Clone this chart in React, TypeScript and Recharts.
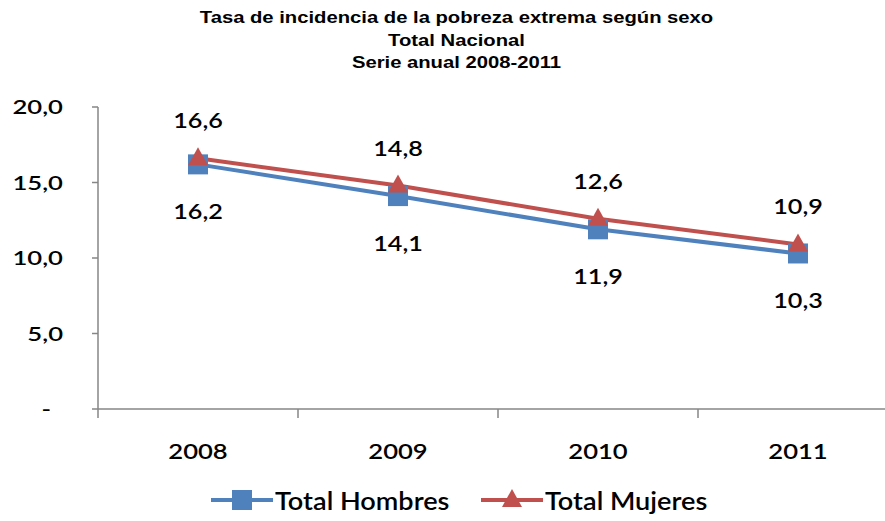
import React from "react";
import { LineChart, Line, XAxis, YAxis, LabelList } from "recharts";

const years = ["2008", "2009", "2010", "2011"];
const hombres = [16.2, 14.1, 11.9, 10.3];
const mujeres = [16.6, 14.8, 12.6, 10.9];
const yTicks = [0, 5, 10, 15, 20];
const titleLines = [
  "Tasa de incidencia de la pobreza extrema según sexo",
  "Total Nacional",
  "Serie anual 2008-2011",
];

const BLUE = "#4F81BD";
const RED = "#C0504D";
const AXIS = "#868686";
const FONT = "Lato, 'Open Sans', sans-serif";

const data = years.map((year, i) => ({ year, hombres: hombres[i], mujeres: mujeres[i] }));

const fmt = (v: number) => v.toFixed(1).replace(".", ",");

const CHART_W = 905;
const MARGIN = { top: 107, right: 7, left: 0, bottom: 82 };
const Y_W = 98;
const band = (CHART_W - MARGIN.left - MARGIN.right - Y_W) / years.length;

// the reference text is stretched sideways, so scale it a bit
function SText({ x, y, size, sx, anchor = "middle", weight = "normal", children }: any) {
  return (
    <text
      transform={`translate(${x} ${y}) scale(${sx} 1)`}
      textAnchor={anchor}
      fontSize={size}
      fontFamily={FONT}
      fontWeight={weight}
      fill="#000"
    >
      {children}
    </text>
  );
}

function SquareDot(props: any) {
  const { cx, cy } = props;
  if (cx == null || cy == null) return null;
  return <rect x={cx - 10} y={cy - 10} width={20} height={20} fill={BLUE} />;
}

function TriangleDot(props: any) {
  const { cx, cy } = props;
  if (cx == null || cy == null) return null;
  return <path d={`M${cx},${cy - 11} L${cx + 10},${cy + 7} L${cx - 10},${cy + 7} Z`} fill={RED} />;
}

function YTick(props: any) {
  const { x, y, payload } = props;
  const v = payload.value as number;
  return (
    <SText x={v === 0 ? x - 12 : x} y={y + 7} size={19} sx={1.35} anchor="end" weight={600}>
      {v === 0 ? "-" : fmt(v)}
    </SText>
  );
}

function XTick(props: any) {
  const { x, y, payload } = props;
  return (
    <g>
      <line x1={x - band / 2} x2={x - band / 2} y1={y - 8} y2={y + 1} stroke={AXIS} strokeWidth={1.5} />
      <SText x={x} y={y + 42} size={21} sx={1.22} weight={600}>
        {payload.value}
      </SText>
    </g>
  );
}

function valueLabel(offset: number) {
  return (props: any) => {
    const { x, y, value } = props;
    return (
      <SText x={x} y={y + offset + 8} size={21} sx={1.2} weight={600}>
        {fmt(value)}
      </SText>
    );
  };
}

function LegendItem({ color, name, square }: { color: string; name: string; square: boolean }) {
  return (
    <div style={{ display: "flex", alignItems: "center", height: 30 }}>
      <svg width={62} height={24}>
        <line x1={0} x2={62} y1={12} y2={12} stroke={color} strokeWidth={4} />
        {square ? (
          <rect x={21} y={2} width={20} height={20} fill={color} />
        ) : (
          <path d="M31,1 L41,19 L21,19 Z" fill={color} />
        )}
      </svg>
      <span
        style={{
          display: "inline-block",
          fontSize: 24,
          fontFamily: FONT,
          fontWeight: 600,
          color: "#000",
          marginLeft: 2,
          transform: "scaleX(1.13)",
          transformOrigin: "left center",
        }}
      >
        {name}
      </span>
    </div>
  );
}

export default function App() {
  return (
    <div
      style={{
        position: "absolute",
        left: 0,
        top: 0,
        width: 885,
        height: 521,
        overflow: "hidden",
        background: "#fff",
      }}
    >
      <div
        style={{
          position: "absolute",
          left: 13.5,
          top: 7,
          width: 885,
          textAlign: "center",
          fontFamily: "'Liberation Sans', Arial, sans-serif",
          fontWeight: "bold",
          fontSize: 17,
          lineHeight: "22.5px",
          color: "#000",
          transform: "scaleX(1.19)",
          transformOrigin: "center 0",
        }}
      >
        {titleLines.map((t) => (
          <div key={t}>{t}</div>
        ))}
      </div>
      <div style={{ position: "absolute", left: 0, top: 0 }}>
        <LineChart width={CHART_W} height={521} data={data} margin={MARGIN}>
          <XAxis
            dataKey="year"
            axisLine={{ stroke: AXIS, strokeWidth: 1.5 }}
            tickLine={false}
            tick={<XTick />}
            height={30}
            interval={0}
            padding={{ left: band / 2, right: band / 2 }}
          />
          <YAxis
            domain={[0, 20]}
            ticks={yTicks}
            width={Y_W}
            axisLine={{ stroke: AXIS, strokeWidth: 1.5 }}
            tickLine={{ stroke: AXIS, strokeWidth: 1.5 }}
            tickSize={6}
            tickMargin={29}
            tick={<YTick />}
            interval={0}
          />
          <Line
            dataKey="hombres"
            name="Total Hombres"
            stroke={BLUE}
            strokeWidth={4}
            dot={<SquareDot />}
            activeDot={false}
            isAnimationActive={false}
          >
            <LabelList dataKey="hombres" content={valueLabel(47)} />
          </Line>
          <Line
            dataKey="mujeres"
            name="Total Mujeres"
            stroke={RED}
            strokeWidth={4}
            dot={<TriangleDot />}
            activeDot={false}
            isAnimationActive={false}
          >
            <LabelList dataKey="mujeres" content={valueLabel(-38)} />
          </Line>
        </LineChart>
      </div>
      <div
        style={{
          position: "absolute",
          left: 211,
          top: 485,
          display: "flex",
          gap: 52,
        }}
      >
        <LegendItem color={BLUE} name="Total Hombres" square />
        <LegendItem color={RED} name="Total Mujeres" square={false} />
      </div>
    </div>
  );
}
